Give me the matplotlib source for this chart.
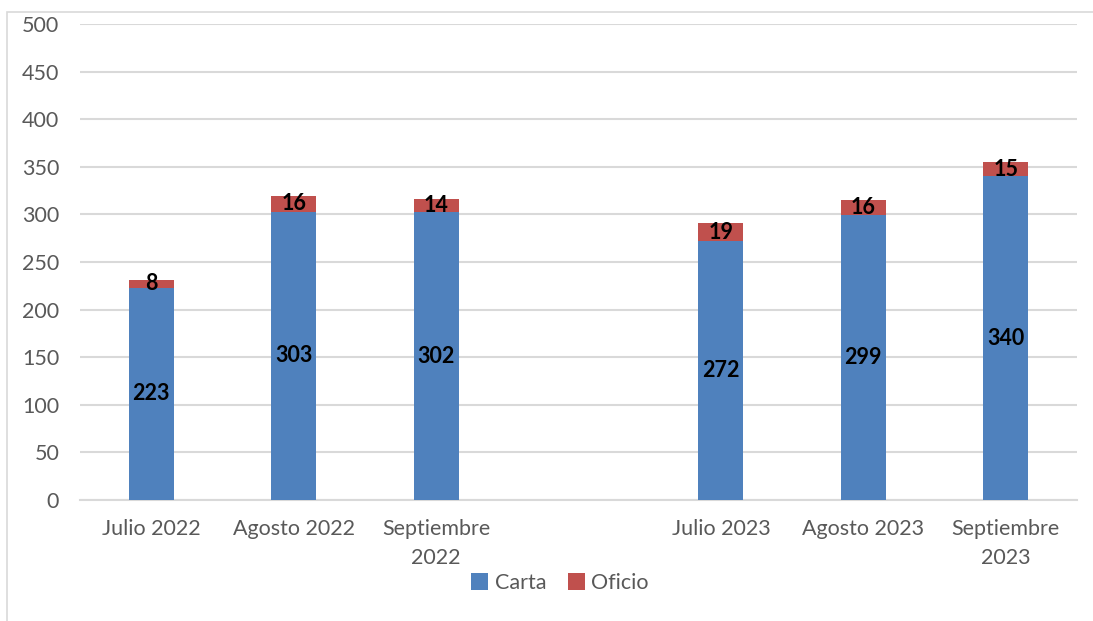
import numpy as np
import matplotlib
matplotlib.use("Agg")
import matplotlib.pyplot as plt
from matplotlib.patches import Rectangle

# datos
meses = ["Julio 2022", "Agosto 2022", "Septiembre\n2022", "",
         "Julio 2023", "Agosto 2023", "Septiembre\n2023"]
carta = [223, 303, 302, np.nan, 272, 299, 340]
oficio = [8, 16, 14, np.nan, 19, 16, 15]

plt.rcParams['font.family'] = ['Lato', 'DejaVu Sans']

W, H = 1093, 621
fig = plt.figure(figsize=(W / 100, H / 100), dpi=100)

# marco del grafico
fig.patches.append(Rectangle((7 / W, -0.1), 1.2, 1 - 12 / H + 0.1,
                             transform=fig.transFigure, fill=False,
                             edgecolor="#d9d9d9", lw=1.2))

ax = fig.add_axes([80 / W, 1 - 500 / H, 997 / W, 476 / H])

x = np.arange(len(meses))
ancho = 0.316
c1 = ax.bar(x, carta, ancho, color="#4f81bd", label="Carta", zorder=3)
c2 = ax.bar(x, oficio, ancho, bottom=carta, color="#c0504d", label="Oficio", zorder=3)

for barras, vals in ((c1, carta), (c2, oficio)):
    for b, v in zip(barras, vals):
        if np.isnan(v):
            continue
        ax.text(b.get_x() + b.get_width() / 2, b.get_y() + b.get_height() / 2,
                f"{v:.0f}", ha="center", va="center", fontsize=15.5,
                fontweight="bold", color="black", zorder=4)

ax.set_xlim(-0.5, len(meses) - 0.5)
ax.set_ylim(0, 500)
ax.set_yticks(range(0, 501, 50))
ax.set_xticks(x)
ax.set_xticklabels(meses, fontsize=15.5, color="#595959", linespacing=1.55)
ax.tick_params(axis="y", labelsize=15.5, labelcolor="#595959", length=0, pad=15)
ax.tick_params(axis="x", length=0, pad=14)
ax.grid(axis="y", color="#d9d9d9", lw=1.5, zorder=0)
for s in ("top", "right", "left"):
    ax.spines[s].set_visible(False)
ax.spines["bottom"].set_color("#d9d9d9")
ax.spines["bottom"].set_linewidth(1.5)

fig.legend(loc="center", bbox_to_anchor=(560 / W, 1 - 583 / H), ncol=2,
           frameon=False, fontsize=15.5, handlelength=0.8, handleheight=0.8,
           handletextpad=0.3, columnspacing=1.0, labelcolor="#595959")

fig.savefig("out.png", dpi=100)
